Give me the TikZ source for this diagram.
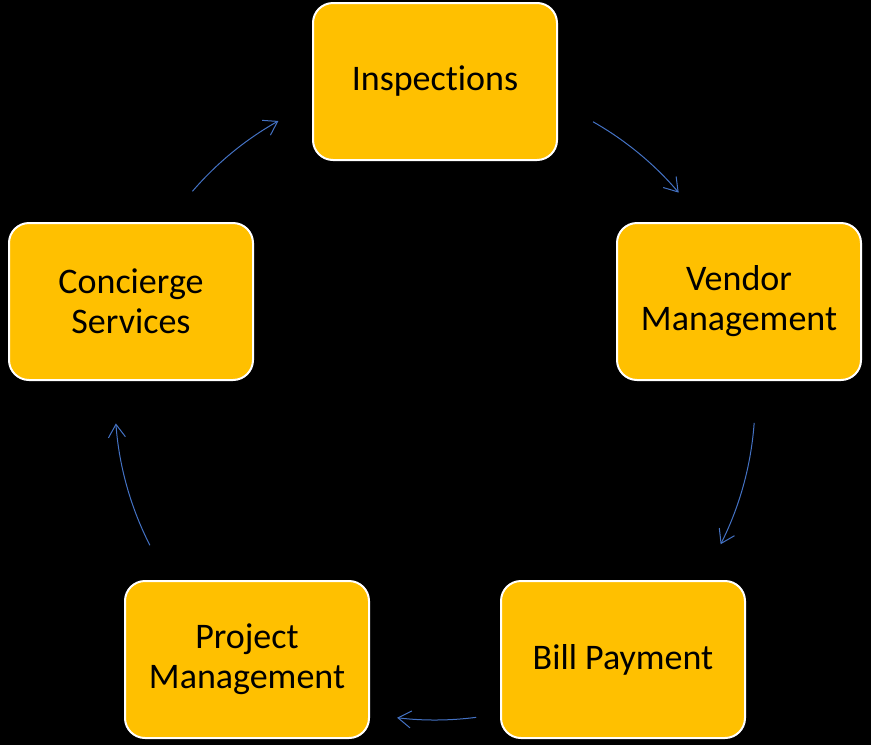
\documentclass[tikz,border=0pt]{standalone}
\usepackage{fontspec}
\setmainfont[Ligatures={NoCommon}]{Carlito}
\usetikzlibrary{arrows.meta,calc}
\definecolor{boxfill}{HTML}{FFC000}
\definecolor{arrowblue}{HTML}{4472C4}
\tikzset{
  stagebox/.style={draw=white, line width=2pt, fill=boxfill, rounded corners=20pt,
    minimum width=244pt, minimum height=157pt, inner sep=0pt, align=center,
    font=\fontsize{36pt}{40pt}\selectfont, text=black},
  cyclearrow/.style={draw=arrowblue, line width=1pt, -{Straight Barb[length=13pt,width=17pt]}}
}
\begin{document}
\begin{tikzpicture}[x=1pt,y=-1pt]
\fill[black] (0,0) rectangle (871,745);
\useasboundingbox (0,0) rectangle (871,745);
\node[stagebox] (insp) at (435,81.5) {Inspections};
\node[stagebox] (vend) at (739,301.5) {Vendor\\Management};
\node[stagebox] (bill) at (623,659.5) {Bill Payment};
\node[stagebox] (proj) at (247,659.5) {Project\\Management};
\node[stagebox] (conc) at (131,301.5) {Concierge\\Services};
\coordinate (o) at (435,400);
\coordinate (s1) at ($(o)+(60.4:320pt)$);
\coordinate (s2) at ($(o)+(-4.1:320pt)$);
\coordinate (s3) at ($(o)+(-82.6:320pt)$);
\coordinate (s4) at ($(o)+(-153:320pt)$);
\coordinate (s5) at ($(o)+(139.3:320pt)$);
\draw[cyclearrow] (s1) arc[start angle=60.4, end angle=40.4, radius=320pt];
\draw[cyclearrow] (s2) arc[start angle=-4.1, end angle=-26.8, radius=320pt];
\draw[cyclearrow] (s3) arc[start angle=-82.6, end angle=-96.8, radius=320pt];
\draw[cyclearrow] (s4) arc[start angle=-153, end angle=-175.8, radius=320pt];
\draw[cyclearrow] (s5) arc[start angle=139.3, end angle=119.3, radius=320pt];
\end{tikzpicture}
\end{document}
